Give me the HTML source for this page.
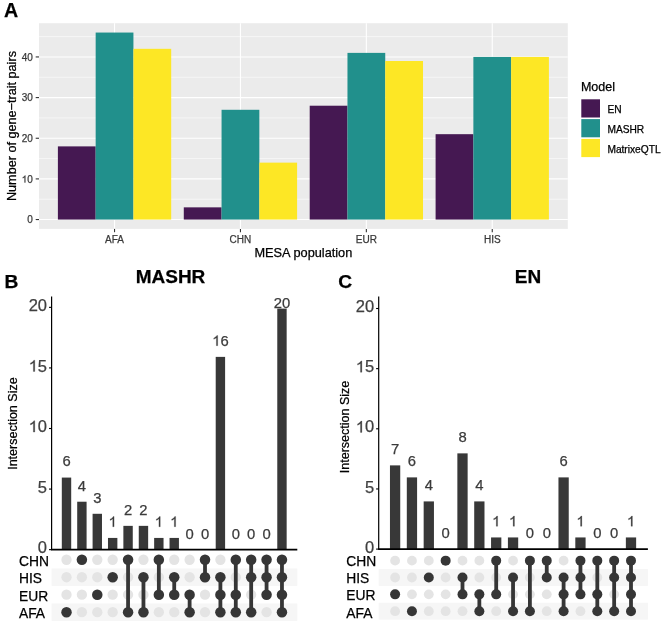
<!DOCTYPE html>
<html><head><meta charset="utf-8"><style>
html,body{margin:0;padding:0;background:#fff;}
svg{display:block;font-family:"Liberation Sans", sans-serif;will-change:transform;}
text{stroke-width:0.25px;}
</style></head><body>
<svg width="666" height="623" viewBox="0 0 666 623">
<rect width="666" height="623" fill="#fff"/>
<rect x="39.0" y="23.2" width="528.80" height="205.70" fill="#EBEBEB"/>
<line x1="39.0" x2="567.8" y1="199.22" y2="199.22" stroke="#fff" stroke-width="0.55"/>
<line x1="39.0" x2="567.8" y1="158.57" y2="158.57" stroke="#fff" stroke-width="0.55"/>
<line x1="39.0" x2="567.8" y1="117.92" y2="117.92" stroke="#fff" stroke-width="0.55"/>
<line x1="39.0" x2="567.8" y1="77.27" y2="77.27" stroke="#fff" stroke-width="0.55"/>
<line x1="39.0" x2="567.8" y1="36.62" y2="36.62" stroke="#fff" stroke-width="0.55"/>
<line x1="39.0" x2="567.8" y1="219.55" y2="219.55" stroke="#fff" stroke-width="1.1"/>
<line x1="39.0" x2="567.8" y1="178.90" y2="178.90" stroke="#fff" stroke-width="1.1"/>
<line x1="39.0" x2="567.8" y1="138.25" y2="138.25" stroke="#fff" stroke-width="1.1"/>
<line x1="39.0" x2="567.8" y1="97.59" y2="97.59" stroke="#fff" stroke-width="1.1"/>
<line x1="39.0" x2="567.8" y1="56.94" y2="56.94" stroke="#fff" stroke-width="1.1"/>
<line x1="114.54" x2="114.54" y1="23.2" y2="228.9" stroke="#fff" stroke-width="1.1"/>
<line x1="240.45" x2="240.45" y1="23.2" y2="228.9" stroke="#fff" stroke-width="1.1"/>
<line x1="366.35" x2="366.35" y1="23.2" y2="228.9" stroke="#fff" stroke-width="1.1"/>
<line x1="492.26" x2="492.26" y1="23.2" y2="228.9" stroke="#fff" stroke-width="1.1"/>
<rect x="57.89" y="146.38" width="37.77" height="73.17" fill="#451852"/>
<rect x="95.66" y="32.55" width="37.77" height="187.00" fill="#21908C"/>
<rect x="133.43" y="48.81" width="37.77" height="170.74" fill="#FDE725"/>
<rect x="183.79" y="207.35" width="37.77" height="12.20" fill="#451852"/>
<rect x="221.56" y="109.79" width="37.77" height="109.76" fill="#21908C"/>
<rect x="259.33" y="162.64" width="37.77" height="56.91" fill="#FDE725"/>
<rect x="309.70" y="105.72" width="37.77" height="113.83" fill="#451852"/>
<rect x="347.47" y="52.88" width="37.77" height="166.67" fill="#21908C"/>
<rect x="385.24" y="61.01" width="37.77" height="158.54" fill="#FDE725"/>
<rect x="435.60" y="134.18" width="37.77" height="85.37" fill="#451852"/>
<rect x="473.37" y="56.94" width="37.77" height="162.61" fill="#21908C"/>
<rect x="511.14" y="56.94" width="37.77" height="162.61" fill="#FDE725"/>
<line x1="35.70" x2="39.0" y1="219.55" y2="219.55" stroke="#333" stroke-width="1.1"/>
<text x="27.24" y="223.15" font-size="10" fill="#3a3a3a" stroke="#3a3a3a">0</text>
<line x1="35.70" x2="39.0" y1="178.90" y2="178.90" stroke="#333" stroke-width="1.1"/>
<path d="M763 0L583 0L583 1098Q518 1038 412 979Q307 920 223 890L223 1057Q374 1125 487 1221Q600 1318 647 1409L763 1409Z" transform="translate(21.68 182.50) scale(0.00488 -0.00488)" fill="#3a3a3a" stroke="#3a3a3a" stroke-width="51.2"/>
<text x="27.24" y="182.50" font-size="10" fill="#3a3a3a" stroke="#3a3a3a">0</text>
<line x1="35.70" x2="39.0" y1="138.25" y2="138.25" stroke="#333" stroke-width="1.1"/>
<text x="21.68" y="141.85" font-size="10" fill="#3a3a3a" stroke="#3a3a3a">2</text>
<text x="27.24" y="141.85" font-size="10" fill="#3a3a3a" stroke="#3a3a3a">0</text>
<line x1="35.70" x2="39.0" y1="97.59" y2="97.59" stroke="#333" stroke-width="1.1"/>
<text x="21.68" y="101.19" font-size="10" fill="#3a3a3a" stroke="#3a3a3a">3</text>
<text x="27.24" y="101.19" font-size="10" fill="#3a3a3a" stroke="#3a3a3a">0</text>
<line x1="35.70" x2="39.0" y1="56.94" y2="56.94" stroke="#333" stroke-width="1.1"/>
<text x="21.68" y="60.54" font-size="10" fill="#3a3a3a" stroke="#3a3a3a">4</text>
<text x="27.24" y="60.54" font-size="10" fill="#3a3a3a" stroke="#3a3a3a">0</text>
<line x1="114.54" x2="114.54" y1="228.9" y2="232.20" stroke="#333" stroke-width="1.1"/>
<text x="114.54" y="243.0" font-size="10" fill="#3a3a3a" stroke="#3a3a3a" text-anchor="middle">AFA</text>
<line x1="240.45" x2="240.45" y1="228.9" y2="232.20" stroke="#333" stroke-width="1.1"/>
<text x="240.45" y="243.0" font-size="10" fill="#3a3a3a" stroke="#3a3a3a" text-anchor="middle">CHN</text>
<line x1="366.35" x2="366.35" y1="228.9" y2="232.20" stroke="#333" stroke-width="1.1"/>
<text x="366.35" y="243.0" font-size="10" fill="#3a3a3a" stroke="#3a3a3a" text-anchor="middle">EUR</text>
<line x1="492.26" x2="492.26" y1="228.9" y2="232.20" stroke="#333" stroke-width="1.1"/>
<text x="492.26" y="243.0" font-size="10" fill="#3a3a3a" stroke="#3a3a3a" text-anchor="middle">HIS</text>
<text x="303.40" y="257.2" font-size="12.75" fill="#000" stroke="#000" text-anchor="middle">MESA population</text>
<text transform="translate(16.2 126.05) rotate(-90)" font-size="12.65" fill="#000" stroke="#000" text-anchor="middle">Number of gene−trait pairs</text>
<text x="580.9" y="90.5" font-size="12.5" fill="#000" stroke="#000">Model</text>
<rect x="581.3" y="99.30" width="18.7" height="18.2" fill="#451852"/>
<text x="607.4" y="112.90" font-size="10.2" fill="#000" stroke="#000">EN</text>
<rect x="581.3" y="119.10" width="18.7" height="18.2" fill="#21908C"/>
<text x="607.4" y="132.70" font-size="10.2" fill="#000" stroke="#000">MASHR</text>
<rect x="581.3" y="138.90" width="18.7" height="18.2" fill="#FDE725"/>
<text x="607.4" y="152.50" font-size="10.2" fill="#000" stroke="#000">MatrixeQTL</text>
<text x="3.9" y="16.9" font-size="19.6" font-weight="bold" fill="#000" stroke="#000">A</text>
<text x="4.6" y="288.0" font-size="19.2" font-weight="bold" fill="#000" stroke="#000">B</text>
<text x="170.5" y="283.2" font-size="19" font-weight="bold" fill="#000" stroke="#000" text-anchor="middle">MASHR</text>
<rect x="51.60" y="568.49" width="245.70" height="17.48" fill="#F6F6F6"/>
<rect x="51.60" y="603.45" width="245.70" height="17.48" fill="#F6F6F6"/>
<rect x="61.81" y="477.58" width="9.39" height="72.07" fill="#383838"/>
<text x="62.38" y="466.38" font-size="14.8" fill="#3B3B3B" stroke="#3B3B3B">6</text>
<rect x="77.20" y="501.72" width="9.39" height="47.93" fill="#383838"/>
<text x="77.77" y="490.52" font-size="14.8" fill="#3B3B3B" stroke="#3B3B3B">4</text>
<rect x="92.59" y="513.79" width="9.39" height="35.86" fill="#383838"/>
<text x="93.16" y="502.59" font-size="14.8" fill="#3B3B3B" stroke="#3B3B3B">3</text>
<rect x="107.98" y="537.93" width="9.39" height="11.72" fill="#383838"/>
<path d="M763 0L583 0L583 1098Q518 1038 412 979Q307 920 223 890L223 1057Q374 1125 487 1221Q600 1318 647 1409L763 1409Z" transform="translate(108.55 526.73) scale(0.00723 -0.00723)" fill="#3B3B3B" stroke="#3B3B3B" stroke-width="34.6"/>
<rect x="123.37" y="525.86" width="9.39" height="23.79" fill="#383838"/>
<text x="123.94" y="514.66" font-size="14.8" fill="#3B3B3B" stroke="#3B3B3B">2</text>
<rect x="138.76" y="525.86" width="9.39" height="23.79" fill="#383838"/>
<text x="139.33" y="514.66" font-size="14.8" fill="#3B3B3B" stroke="#3B3B3B">2</text>
<rect x="154.15" y="537.93" width="9.39" height="11.72" fill="#383838"/>
<path d="M763 0L583 0L583 1098Q518 1038 412 979Q307 920 223 890L223 1057Q374 1125 487 1221Q600 1318 647 1409L763 1409Z" transform="translate(154.72 526.73) scale(0.00723 -0.00723)" fill="#3B3B3B" stroke="#3B3B3B" stroke-width="34.6"/>
<rect x="169.54" y="537.93" width="9.39" height="11.72" fill="#383838"/>
<path d="M763 0L583 0L583 1098Q518 1038 412 979Q307 920 223 890L223 1057Q374 1125 487 1221Q600 1318 647 1409L763 1409Z" transform="translate(170.11 526.73) scale(0.00723 -0.00723)" fill="#3B3B3B" stroke="#3B3B3B" stroke-width="34.6"/>
<text x="185.50" y="538.80" font-size="14.8" fill="#3B3B3B" stroke="#3B3B3B">0</text>
<text x="200.89" y="538.80" font-size="14.8" fill="#3B3B3B" stroke="#3B3B3B">0</text>
<rect x="215.71" y="356.88" width="9.39" height="192.77" fill="#383838"/>
<path d="M763 0L583 0L583 1098Q518 1038 412 979Q307 920 223 890L223 1057Q374 1125 487 1221Q600 1318 647 1409L763 1409Z" transform="translate(212.17 345.68) scale(0.00723 -0.00723)" fill="#3B3B3B" stroke="#3B3B3B" stroke-width="34.6"/>
<text x="220.40" y="345.68" font-size="14.8" fill="#3B3B3B" stroke="#3B3B3B">6</text>
<text x="231.67" y="538.80" font-size="14.8" fill="#3B3B3B" stroke="#3B3B3B">0</text>
<text x="247.06" y="538.80" font-size="14.8" fill="#3B3B3B" stroke="#3B3B3B">0</text>
<text x="262.45" y="538.80" font-size="14.8" fill="#3B3B3B" stroke="#3B3B3B">0</text>
<rect x="277.27" y="308.60" width="9.39" height="241.05" fill="#383838"/>
<text x="273.73" y="307.70" font-size="14.8" fill="#3B3B3B" stroke="#3B3B3B">2</text>
<text x="281.96" y="307.70" font-size="14.8" fill="#3B3B3B" stroke="#3B3B3B">0</text>
<line x1="51.60" x2="51.60" y1="296.6" y2="549.65" stroke="#000" stroke-width="1.2"/>
<line x1="51.00" x2="297.30" y1="549.65" y2="549.65" stroke="#000" stroke-width="1.6"/>
<line x1="49.00" x2="51.60" y1="549.65" y2="549.65" stroke="#000" stroke-width="1.1"/>
<text x="37.82" y="553.25" font-size="16.5" fill="#3f3f3f" stroke="#3f3f3f">0</text>
<line x1="49.00" x2="51.60" y1="489.07" y2="489.07" stroke="#000" stroke-width="1.1"/>
<text x="37.82" y="492.68" font-size="16.5" fill="#3f3f3f" stroke="#3f3f3f">5</text>
<line x1="49.00" x2="51.60" y1="428.50" y2="428.50" stroke="#000" stroke-width="1.1"/>
<path d="M763 0L583 0L583 1098Q518 1038 412 979Q307 920 223 890L223 1057Q374 1125 487 1221Q600 1318 647 1409L763 1409Z" transform="translate(28.65 432.10) scale(0.00806 -0.00806)" fill="#3f3f3f" stroke="#3f3f3f" stroke-width="31.0"/>
<text x="37.82" y="432.10" font-size="16.5" fill="#3f3f3f" stroke="#3f3f3f">0</text>
<line x1="49.00" x2="51.60" y1="367.92" y2="367.92" stroke="#000" stroke-width="1.1"/>
<path d="M763 0L583 0L583 1098Q518 1038 412 979Q307 920 223 890L223 1057Q374 1125 487 1221Q600 1318 647 1409L763 1409Z" transform="translate(28.65 371.52) scale(0.00806 -0.00806)" fill="#3f3f3f" stroke="#3f3f3f" stroke-width="31.0"/>
<text x="37.82" y="371.52" font-size="16.5" fill="#3f3f3f" stroke="#3f3f3f">5</text>
<line x1="49.00" x2="51.60" y1="307.35" y2="307.35" stroke="#000" stroke-width="1.1"/>
<text x="28.65" y="310.95" font-size="16.5" fill="#3f3f3f" stroke="#3f3f3f">2</text>
<text x="37.82" y="310.95" font-size="16.5" fill="#3f3f3f" stroke="#3f3f3f">0</text>
<text transform="translate(17.0 423.6) rotate(-90)" font-size="12.5" fill="#000" stroke="#000" text-anchor="middle">Intersection Size</text>
<text x="19.0" y="565.75" font-size="13.8" fill="#000" stroke="#000">CHN</text>
<text x="19.0" y="583.20" font-size="13.8" fill="#000" stroke="#000">HIS</text>
<text x="19.0" y="600.65" font-size="13.8" fill="#000" stroke="#000">EUR</text>
<text x="19.0" y="618.10" font-size="13.8" fill="#000" stroke="#000">AFA</text>
<circle cx="66.50" cy="559.75" r="5.15" fill="#E4E4E4"/>
<circle cx="66.50" cy="577.23" r="5.15" fill="#E4E4E4"/>
<circle cx="66.50" cy="594.71" r="5.15" fill="#E4E4E4"/>
<circle cx="66.50" cy="612.19" r="5.25" fill="#363636"/>
<circle cx="81.89" cy="577.23" r="5.15" fill="#E4E4E4"/>
<circle cx="81.89" cy="594.71" r="5.15" fill="#E4E4E4"/>
<circle cx="81.89" cy="612.19" r="5.15" fill="#E4E4E4"/>
<circle cx="81.89" cy="559.75" r="5.25" fill="#363636"/>
<circle cx="97.28" cy="559.75" r="5.15" fill="#E4E4E4"/>
<circle cx="97.28" cy="577.23" r="5.15" fill="#E4E4E4"/>
<circle cx="97.28" cy="612.19" r="5.15" fill="#E4E4E4"/>
<circle cx="97.28" cy="594.71" r="5.25" fill="#363636"/>
<circle cx="112.67" cy="559.75" r="5.15" fill="#E4E4E4"/>
<circle cx="112.67" cy="594.71" r="5.15" fill="#E4E4E4"/>
<circle cx="112.67" cy="612.19" r="5.15" fill="#E4E4E4"/>
<circle cx="112.67" cy="577.23" r="5.25" fill="#363636"/>
<circle cx="128.06" cy="577.23" r="5.15" fill="#E4E4E4"/>
<circle cx="128.06" cy="594.71" r="5.15" fill="#E4E4E4"/>
<line x1="128.06" x2="128.06" y1="559.75" y2="612.19" stroke="#363636" stroke-width="3.8"/>
<circle cx="128.06" cy="559.75" r="5.25" fill="#363636"/>
<circle cx="128.06" cy="612.19" r="5.25" fill="#363636"/>
<circle cx="143.45" cy="559.75" r="5.15" fill="#E4E4E4"/>
<circle cx="143.45" cy="594.71" r="5.15" fill="#E4E4E4"/>
<line x1="143.45" x2="143.45" y1="577.23" y2="612.19" stroke="#363636" stroke-width="3.8"/>
<circle cx="143.45" cy="577.23" r="5.25" fill="#363636"/>
<circle cx="143.45" cy="612.19" r="5.25" fill="#363636"/>
<circle cx="158.84" cy="577.23" r="5.15" fill="#E4E4E4"/>
<circle cx="158.84" cy="612.19" r="5.15" fill="#E4E4E4"/>
<line x1="158.84" x2="158.84" y1="559.75" y2="594.71" stroke="#363636" stroke-width="3.8"/>
<circle cx="158.84" cy="559.75" r="5.25" fill="#363636"/>
<circle cx="158.84" cy="594.71" r="5.25" fill="#363636"/>
<circle cx="174.23" cy="559.75" r="5.15" fill="#E4E4E4"/>
<circle cx="174.23" cy="612.19" r="5.15" fill="#E4E4E4"/>
<line x1="174.23" x2="174.23" y1="577.23" y2="594.71" stroke="#363636" stroke-width="3.8"/>
<circle cx="174.23" cy="577.23" r="5.25" fill="#363636"/>
<circle cx="174.23" cy="594.71" r="5.25" fill="#363636"/>
<circle cx="189.62" cy="559.75" r="5.15" fill="#E4E4E4"/>
<circle cx="189.62" cy="577.23" r="5.15" fill="#E4E4E4"/>
<line x1="189.62" x2="189.62" y1="594.71" y2="612.19" stroke="#363636" stroke-width="3.8"/>
<circle cx="189.62" cy="594.71" r="5.25" fill="#363636"/>
<circle cx="189.62" cy="612.19" r="5.25" fill="#363636"/>
<circle cx="205.01" cy="594.71" r="5.15" fill="#E4E4E4"/>
<circle cx="205.01" cy="612.19" r="5.15" fill="#E4E4E4"/>
<line x1="205.01" x2="205.01" y1="559.75" y2="577.23" stroke="#363636" stroke-width="3.8"/>
<circle cx="205.01" cy="559.75" r="5.25" fill="#363636"/>
<circle cx="205.01" cy="577.23" r="5.25" fill="#363636"/>
<circle cx="220.40" cy="559.75" r="5.15" fill="#E4E4E4"/>
<line x1="220.40" x2="220.40" y1="577.23" y2="612.19" stroke="#363636" stroke-width="3.8"/>
<circle cx="220.40" cy="577.23" r="5.25" fill="#363636"/>
<circle cx="220.40" cy="594.71" r="5.25" fill="#363636"/>
<circle cx="220.40" cy="612.19" r="5.25" fill="#363636"/>
<circle cx="235.79" cy="577.23" r="5.15" fill="#E4E4E4"/>
<line x1="235.79" x2="235.79" y1="559.75" y2="612.19" stroke="#363636" stroke-width="3.8"/>
<circle cx="235.79" cy="559.75" r="5.25" fill="#363636"/>
<circle cx="235.79" cy="594.71" r="5.25" fill="#363636"/>
<circle cx="235.79" cy="612.19" r="5.25" fill="#363636"/>
<circle cx="251.18" cy="594.71" r="5.15" fill="#E4E4E4"/>
<line x1="251.18" x2="251.18" y1="559.75" y2="612.19" stroke="#363636" stroke-width="3.8"/>
<circle cx="251.18" cy="559.75" r="5.25" fill="#363636"/>
<circle cx="251.18" cy="577.23" r="5.25" fill="#363636"/>
<circle cx="251.18" cy="612.19" r="5.25" fill="#363636"/>
<circle cx="266.57" cy="612.19" r="5.15" fill="#E4E4E4"/>
<line x1="266.57" x2="266.57" y1="559.75" y2="594.71" stroke="#363636" stroke-width="3.8"/>
<circle cx="266.57" cy="559.75" r="5.25" fill="#363636"/>
<circle cx="266.57" cy="577.23" r="5.25" fill="#363636"/>
<circle cx="266.57" cy="594.71" r="5.25" fill="#363636"/>
<line x1="281.96" x2="281.96" y1="559.75" y2="612.19" stroke="#363636" stroke-width="3.8"/>
<circle cx="281.96" cy="559.75" r="5.25" fill="#363636"/>
<circle cx="281.96" cy="577.23" r="5.25" fill="#363636"/>
<circle cx="281.96" cy="594.71" r="5.25" fill="#363636"/>
<circle cx="281.96" cy="612.19" r="5.25" fill="#363636"/>
<text x="338.3" y="288.0" font-size="19.2" font-weight="bold" fill="#000" stroke="#000">C</text>
<text x="528.0" y="283.2" font-size="19" font-weight="bold" fill="#000" stroke="#000" text-anchor="middle">EN</text>
<rect x="378.70" y="569.08" width="269.20" height="16.85" fill="#F6F6F6"/>
<rect x="378.70" y="602.77" width="269.20" height="16.85" fill="#F6F6F6"/>
<rect x="389.96" y="465.38" width="10.28" height="83.72" fill="#383838"/>
<text x="390.98" y="454.18" font-size="14.8" fill="#3B3B3B" stroke="#3B3B3B">7</text>
<rect x="406.81" y="477.39" width="10.28" height="71.71" fill="#383838"/>
<text x="407.83" y="466.19" font-size="14.8" fill="#3B3B3B" stroke="#3B3B3B">6</text>
<rect x="423.66" y="501.41" width="10.28" height="47.69" fill="#383838"/>
<text x="424.68" y="490.21" font-size="14.8" fill="#3B3B3B" stroke="#3B3B3B">4</text>
<text x="441.53" y="538.25" font-size="14.8" fill="#3B3B3B" stroke="#3B3B3B">0</text>
<rect x="457.36" y="453.37" width="10.28" height="95.73" fill="#383838"/>
<text x="458.38" y="442.17" font-size="14.8" fill="#3B3B3B" stroke="#3B3B3B">8</text>
<rect x="474.21" y="501.41" width="10.28" height="47.69" fill="#383838"/>
<text x="475.23" y="490.21" font-size="14.8" fill="#3B3B3B" stroke="#3B3B3B">4</text>
<rect x="491.06" y="537.44" width="10.28" height="11.66" fill="#383838"/>
<path d="M763 0L583 0L583 1098Q518 1038 412 979Q307 920 223 890L223 1057Q374 1125 487 1221Q600 1318 647 1409L763 1409Z" transform="translate(492.08 526.24) scale(0.00723 -0.00723)" fill="#3B3B3B" stroke="#3B3B3B" stroke-width="34.6"/>
<rect x="507.91" y="537.44" width="10.28" height="11.66" fill="#383838"/>
<path d="M763 0L583 0L583 1098Q518 1038 412 979Q307 920 223 890L223 1057Q374 1125 487 1221Q600 1318 647 1409L763 1409Z" transform="translate(508.93 526.24) scale(0.00723 -0.00723)" fill="#3B3B3B" stroke="#3B3B3B" stroke-width="34.6"/>
<text x="525.78" y="538.25" font-size="14.8" fill="#3B3B3B" stroke="#3B3B3B">0</text>
<text x="542.63" y="538.25" font-size="14.8" fill="#3B3B3B" stroke="#3B3B3B">0</text>
<rect x="558.46" y="477.39" width="10.28" height="71.71" fill="#383838"/>
<text x="559.48" y="466.19" font-size="14.8" fill="#3B3B3B" stroke="#3B3B3B">6</text>
<rect x="575.31" y="537.44" width="10.28" height="11.66" fill="#383838"/>
<path d="M763 0L583 0L583 1098Q518 1038 412 979Q307 920 223 890L223 1057Q374 1125 487 1221Q600 1318 647 1409L763 1409Z" transform="translate(576.33 526.24) scale(0.00723 -0.00723)" fill="#3B3B3B" stroke="#3B3B3B" stroke-width="34.6"/>
<text x="593.18" y="538.25" font-size="14.8" fill="#3B3B3B" stroke="#3B3B3B">0</text>
<text x="610.03" y="538.25" font-size="14.8" fill="#3B3B3B" stroke="#3B3B3B">0</text>
<rect x="625.86" y="537.44" width="10.28" height="11.66" fill="#383838"/>
<path d="M763 0L583 0L583 1098Q518 1038 412 979Q307 920 223 890L223 1057Q374 1125 487 1221Q600 1318 647 1409L763 1409Z" transform="translate(626.88 526.24) scale(0.00723 -0.00723)" fill="#3B3B3B" stroke="#3B3B3B" stroke-width="34.6"/>
<line x1="378.70" x2="378.70" y1="296.6" y2="549.10" stroke="#000" stroke-width="1.2"/>
<line x1="378.10" x2="647.90" y1="549.10" y2="549.10" stroke="#000" stroke-width="1.6"/>
<line x1="376.10" x2="378.70" y1="549.10" y2="549.10" stroke="#000" stroke-width="1.1"/>
<text x="364.92" y="552.70" font-size="16.5" fill="#3f3f3f" stroke="#3f3f3f">0</text>
<line x1="376.10" x2="378.70" y1="488.95" y2="488.95" stroke="#000" stroke-width="1.1"/>
<text x="364.92" y="492.55" font-size="16.5" fill="#3f3f3f" stroke="#3f3f3f">5</text>
<line x1="376.10" x2="378.70" y1="428.80" y2="428.80" stroke="#000" stroke-width="1.1"/>
<path d="M763 0L583 0L583 1098Q518 1038 412 979Q307 920 223 890L223 1057Q374 1125 487 1221Q600 1318 647 1409L763 1409Z" transform="translate(355.75 432.40) scale(0.00806 -0.00806)" fill="#3f3f3f" stroke="#3f3f3f" stroke-width="31.0"/>
<text x="364.92" y="432.40" font-size="16.5" fill="#3f3f3f" stroke="#3f3f3f">0</text>
<line x1="376.10" x2="378.70" y1="368.65" y2="368.65" stroke="#000" stroke-width="1.1"/>
<path d="M763 0L583 0L583 1098Q518 1038 412 979Q307 920 223 890L223 1057Q374 1125 487 1221Q600 1318 647 1409L763 1409Z" transform="translate(355.75 372.25) scale(0.00806 -0.00806)" fill="#3f3f3f" stroke="#3f3f3f" stroke-width="31.0"/>
<text x="364.92" y="372.25" font-size="16.5" fill="#3f3f3f" stroke="#3f3f3f">5</text>
<line x1="376.10" x2="378.70" y1="308.50" y2="308.50" stroke="#000" stroke-width="1.1"/>
<text x="355.75" y="312.10" font-size="16.5" fill="#3f3f3f" stroke="#3f3f3f">2</text>
<text x="364.92" y="312.10" font-size="16.5" fill="#3f3f3f" stroke="#3f3f3f">0</text>
<text transform="translate(349.3 427.0) rotate(-90)" font-size="12.5" fill="#000" stroke="#000" text-anchor="middle">Intersection Size</text>
<text x="346.3" y="565.60" font-size="13.8" fill="#000" stroke="#000">CHN</text>
<text x="346.3" y="583.03" font-size="13.8" fill="#000" stroke="#000">HIS</text>
<text x="346.3" y="600.46" font-size="13.8" fill="#000" stroke="#000">EUR</text>
<text x="346.3" y="617.89" font-size="13.8" fill="#000" stroke="#000">AFA</text>
<circle cx="395.10" cy="560.65" r="4.9" fill="#E4E4E4"/>
<circle cx="395.10" cy="577.50" r="4.9" fill="#E4E4E4"/>
<circle cx="395.10" cy="611.20" r="4.9" fill="#E4E4E4"/>
<circle cx="395.10" cy="594.35" r="5.0" fill="#363636"/>
<circle cx="411.95" cy="560.65" r="4.9" fill="#E4E4E4"/>
<circle cx="411.95" cy="577.50" r="4.9" fill="#E4E4E4"/>
<circle cx="411.95" cy="594.35" r="4.9" fill="#E4E4E4"/>
<circle cx="411.95" cy="611.20" r="5.0" fill="#363636"/>
<circle cx="428.80" cy="560.65" r="4.9" fill="#E4E4E4"/>
<circle cx="428.80" cy="594.35" r="4.9" fill="#E4E4E4"/>
<circle cx="428.80" cy="611.20" r="4.9" fill="#E4E4E4"/>
<circle cx="428.80" cy="577.50" r="5.0" fill="#363636"/>
<circle cx="445.65" cy="577.50" r="4.9" fill="#E4E4E4"/>
<circle cx="445.65" cy="594.35" r="4.9" fill="#E4E4E4"/>
<circle cx="445.65" cy="611.20" r="4.9" fill="#E4E4E4"/>
<circle cx="445.65" cy="560.65" r="5.0" fill="#363636"/>
<circle cx="462.50" cy="560.65" r="4.9" fill="#E4E4E4"/>
<circle cx="462.50" cy="611.20" r="4.9" fill="#E4E4E4"/>
<line x1="462.50" x2="462.50" y1="577.50" y2="594.35" stroke="#363636" stroke-width="3.8"/>
<circle cx="462.50" cy="577.50" r="5.0" fill="#363636"/>
<circle cx="462.50" cy="594.35" r="5.0" fill="#363636"/>
<circle cx="479.35" cy="560.65" r="4.9" fill="#E4E4E4"/>
<circle cx="479.35" cy="577.50" r="4.9" fill="#E4E4E4"/>
<line x1="479.35" x2="479.35" y1="594.35" y2="611.20" stroke="#363636" stroke-width="3.8"/>
<circle cx="479.35" cy="594.35" r="5.0" fill="#363636"/>
<circle cx="479.35" cy="611.20" r="5.0" fill="#363636"/>
<circle cx="496.20" cy="577.50" r="4.9" fill="#E4E4E4"/>
<circle cx="496.20" cy="611.20" r="4.9" fill="#E4E4E4"/>
<line x1="496.20" x2="496.20" y1="560.65" y2="594.35" stroke="#363636" stroke-width="3.8"/>
<circle cx="496.20" cy="560.65" r="5.0" fill="#363636"/>
<circle cx="496.20" cy="594.35" r="5.0" fill="#363636"/>
<circle cx="513.05" cy="560.65" r="4.9" fill="#E4E4E4"/>
<circle cx="513.05" cy="594.35" r="4.9" fill="#E4E4E4"/>
<line x1="513.05" x2="513.05" y1="577.50" y2="611.20" stroke="#363636" stroke-width="3.8"/>
<circle cx="513.05" cy="577.50" r="5.0" fill="#363636"/>
<circle cx="513.05" cy="611.20" r="5.0" fill="#363636"/>
<circle cx="529.90" cy="577.50" r="4.9" fill="#E4E4E4"/>
<circle cx="529.90" cy="594.35" r="4.9" fill="#E4E4E4"/>
<line x1="529.90" x2="529.90" y1="560.65" y2="611.20" stroke="#363636" stroke-width="3.8"/>
<circle cx="529.90" cy="560.65" r="5.0" fill="#363636"/>
<circle cx="529.90" cy="611.20" r="5.0" fill="#363636"/>
<circle cx="546.75" cy="594.35" r="4.9" fill="#E4E4E4"/>
<circle cx="546.75" cy="611.20" r="4.9" fill="#E4E4E4"/>
<line x1="546.75" x2="546.75" y1="560.65" y2="577.50" stroke="#363636" stroke-width="3.8"/>
<circle cx="546.75" cy="560.65" r="5.0" fill="#363636"/>
<circle cx="546.75" cy="577.50" r="5.0" fill="#363636"/>
<circle cx="563.60" cy="560.65" r="4.9" fill="#E4E4E4"/>
<line x1="563.60" x2="563.60" y1="577.50" y2="611.20" stroke="#363636" stroke-width="3.8"/>
<circle cx="563.60" cy="577.50" r="5.0" fill="#363636"/>
<circle cx="563.60" cy="594.35" r="5.0" fill="#363636"/>
<circle cx="563.60" cy="611.20" r="5.0" fill="#363636"/>
<circle cx="580.45" cy="611.20" r="4.9" fill="#E4E4E4"/>
<line x1="580.45" x2="580.45" y1="560.65" y2="594.35" stroke="#363636" stroke-width="3.8"/>
<circle cx="580.45" cy="560.65" r="5.0" fill="#363636"/>
<circle cx="580.45" cy="577.50" r="5.0" fill="#363636"/>
<circle cx="580.45" cy="594.35" r="5.0" fill="#363636"/>
<circle cx="597.30" cy="577.50" r="4.9" fill="#E4E4E4"/>
<line x1="597.30" x2="597.30" y1="560.65" y2="611.20" stroke="#363636" stroke-width="3.8"/>
<circle cx="597.30" cy="560.65" r="5.0" fill="#363636"/>
<circle cx="597.30" cy="594.35" r="5.0" fill="#363636"/>
<circle cx="597.30" cy="611.20" r="5.0" fill="#363636"/>
<circle cx="614.15" cy="594.35" r="4.9" fill="#E4E4E4"/>
<line x1="614.15" x2="614.15" y1="560.65" y2="611.20" stroke="#363636" stroke-width="3.8"/>
<circle cx="614.15" cy="560.65" r="5.0" fill="#363636"/>
<circle cx="614.15" cy="577.50" r="5.0" fill="#363636"/>
<circle cx="614.15" cy="611.20" r="5.0" fill="#363636"/>
<line x1="631.00" x2="631.00" y1="560.65" y2="611.20" stroke="#363636" stroke-width="3.8"/>
<circle cx="631.00" cy="560.65" r="5.0" fill="#363636"/>
<circle cx="631.00" cy="577.50" r="5.0" fill="#363636"/>
<circle cx="631.00" cy="594.35" r="5.0" fill="#363636"/>
<circle cx="631.00" cy="611.20" r="5.0" fill="#363636"/>
</svg></body></html>
